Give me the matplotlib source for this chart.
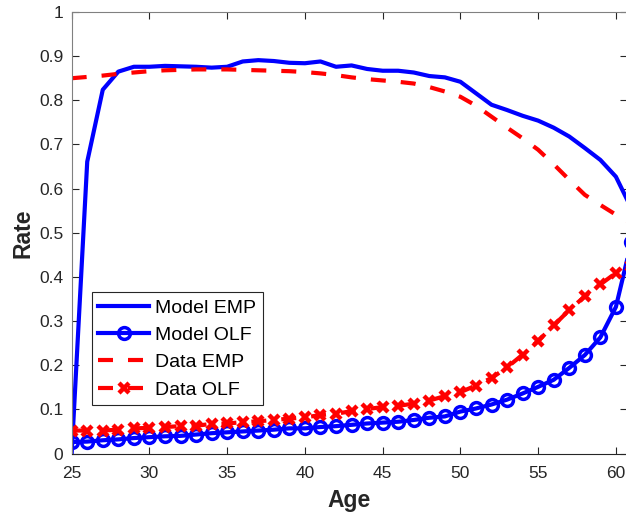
import matplotlib
matplotlib.use("Agg")
import matplotlib.pyplot as plt
import numpy as np

plt.rcParams["font.family"] = ["Liberation Sans", "DejaVu Sans"]

age = np.arange(25, 62)

model_emp = [0.00, 0.661, 0.824, 0.865, 0.876, 0.876, 0.878, 0.877, 0.876, 0.874,
             0.876, 0.888, 0.891, 0.889, 0.885, 0.884, 0.888, 0.876, 0.879, 0.871,
             0.867, 0.867, 0.863, 0.855, 0.852, 0.842, 0.816, 0.790, 0.778, 0.765,
             0.754, 0.738, 0.718, 0.692, 0.665, 0.627, 0.555]
model_olf = [0.026, 0.027, 0.030, 0.032, 0.035, 0.037, 0.039, 0.040, 0.043, 0.046,
             0.048, 0.050, 0.052, 0.054, 0.057, 0.057, 0.060, 0.062, 0.065, 0.068,
             0.070, 0.072, 0.076, 0.081, 0.084, 0.095, 0.102, 0.111, 0.122, 0.136,
             0.151, 0.167, 0.194, 0.223, 0.263, 0.332, 0.480]
data_emp = [0.850, 0.853, 0.856, 0.860, 0.863, 0.866, 0.868, 0.869, 0.870, 0.870,
            0.870, 0.869, 0.868, 0.867, 0.866, 0.864, 0.861, 0.857, 0.852, 0.848,
            0.845, 0.842, 0.838, 0.830, 0.820, 0.808, 0.788, 0.763, 0.738, 0.714,
            0.688, 0.655, 0.620, 0.586, 0.563, 0.541, 0.522]
data_olf = [0.052, 0.052, 0.052, 0.054, 0.057, 0.058, 0.060, 0.062, 0.063, 0.067,
            0.068, 0.071, 0.073, 0.076, 0.079, 0.082, 0.087, 0.090, 0.096, 0.101,
            0.105, 0.108, 0.113, 0.120, 0.130, 0.139, 0.154, 0.171, 0.195, 0.224,
            0.255, 0.290, 0.325, 0.356, 0.383, 0.409, 0.425]

fig = plt.figure(figsize=(6.26, 5.16), dpi=100)
ax = fig.add_axes([0.1145, 0.1211, 0.887, 0.8556])

ax.plot(age, model_emp, color="#0000ff", lw=3, label="Model EMP")
ax.plot(age, model_olf, color="#0000ff", lw=3, marker="o", ms=8.5, mew=2.5,
        mfc="none", label="Model OLF")
ax.plot(age, data_emp, color="#ff0000", lw=3, dashes=(3.6, 3.6),
        dash_capstyle="butt", label="Data EMP")
ax.plot(age, data_olf, color="#ff0000", lw=3, dashes=(3.6, 3.6), marker="x",
        ms=7, mew=3.2, label="Data OLF")

ax.set_xlim(25, 60.71)
ax.set_ylim(0, 1)
ax.set_xticks(np.arange(25, 61, 5))
ax.set_yticks(np.arange(0, 1.01, 0.1))
ax.set_yticklabels(["0", "0.1", "0.2", "0.3", "0.4", "0.5", "0.6", "0.7", "0.8", "0.9", "1"])
ax.tick_params(direction="in", length=5, width=0.8, labelsize=12.5, colors="#262626",
               top=True, right=True)
ax.tick_params(axis="x", pad=9)
ax.tick_params(axis="y", pad=6)
for s in ax.spines.values():
    s.set_color("#262626")
    s.set_linewidth(0.8)
ax.spines["top"].set_color("#808080")
ax.spines["left"].set_color("#808080")

ax.set_xlabel("Age", fontsize=16.5, fontweight="bold", color="#262626", labelpad=6)
ax.set_ylabel("Rate", fontsize=16.5, fontweight="bold", color="#262626", labelpad=3)

leg = ax.legend(loc="lower left", bbox_to_anchor=(0.036, 0.109), fontsize=14,
                handlelength=2.6, handletextpad=0.3, labelspacing=0.5,
                borderpad=0.35, borderaxespad=0, fancybox=False, framealpha=1)
leg.get_frame().set_edgecolor("#262626")
leg.get_frame().set_linewidth(0.8)

fig.savefig("out.png", dpi=100)
